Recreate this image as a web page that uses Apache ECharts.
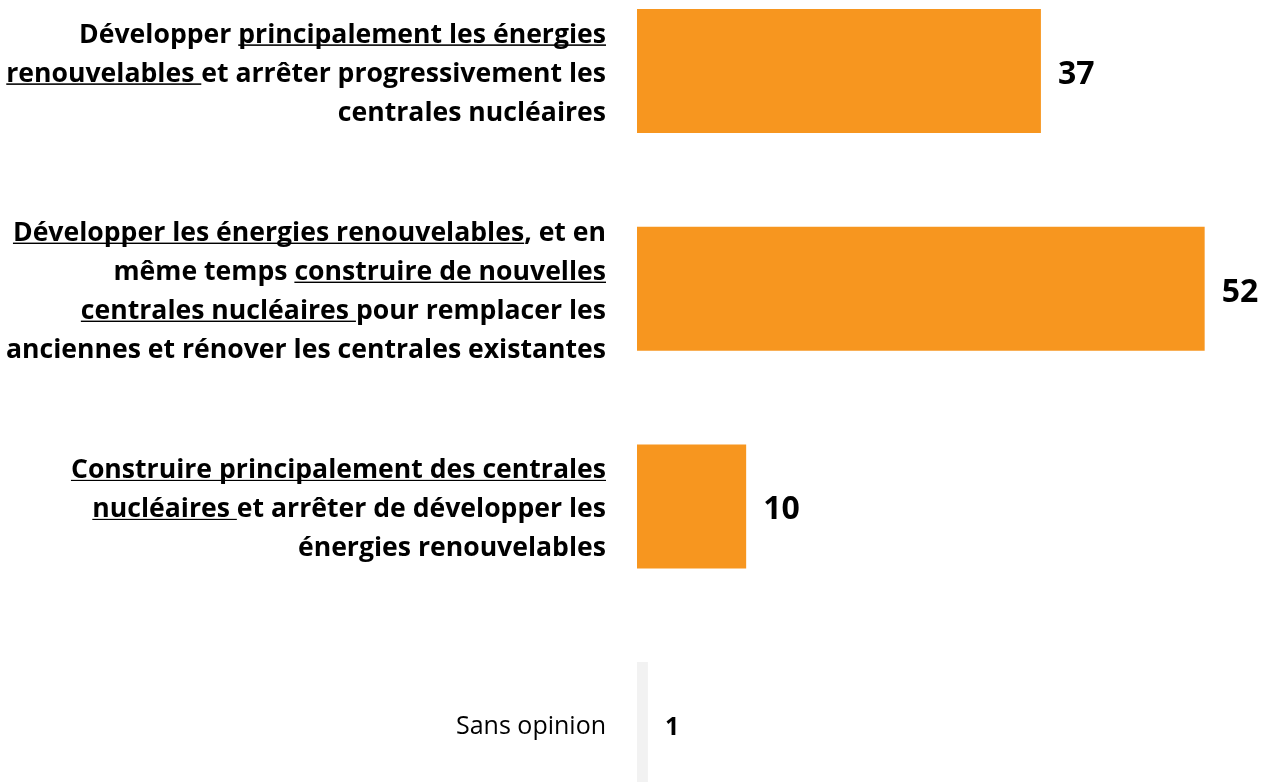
<!DOCTYPE html>
<html><head><meta charset="utf-8">
<script src="https://cdn.jsdelivr.net/npm/echarts@6/dist/echarts.min.js"></script>
<style>html,body{margin:0;padding:0;background:#fff}#c{width:1263px;height:782px}</style>
</head><body><div id="c"></div>
<script>
// Each category label: lines of [text, underlined] segments
const labelLines = [
  [[['Développer ', 0], ['principalement les énergies', 1]],
   [['renouvelables ', 1], ['et arrêter progressivement les', 0]],
   [['centrales nucléaires', 0]]],
  [[['Développer les énergies renouvelables', 1], [', et en', 0]],
   [['même temps ', 0], ['construire de nouvelles', 1]],
   [['centrales nucléaires ', 1], ['pour remplacer les', 0]],
   [['anciennes et rénover les centrales existantes', 0]]],
  [[['Construire principalement des centrales', 1]],
   [['nucléaires ', 1], ['et arrêter de développer les', 0]],
   [['énergies renouvelables', 0]]],
  [[['Sans opinion', 0]]]
];
const categories = labelLines.map(lines => lines.map(l => l.map(s => s[0]).join('')).join(' ').replace(/\s+/g, ' ').trim());
const values = [37, 52, 10, 1];
const plainIndex = 3; // "Sans opinion"

const FONT = 'Open Sans';
const FS = 26.6;
const LH = 39;
function underlineImg(h, y, t) {
  const c = document.createElement('canvas');
  c.width = 4; c.height = h;
  const ctx = c.getContext('2d');
  ctx.fillStyle = '#000';
  ctx.fillRect(0, y, 4, t);
  return c;
}
const ul = underlineImg(LH, 33, 2);

function fmt(value) {
  const i = categories.indexOf(value);
  const lines = labelLines[i];
  return lines.map(l => l.map(s => {
    const st = i === plainIndex ? 'r' : (s[1] ? 'u' : 'b');
    return '{' + st + '|' + s[0] + '}';
  }).join('')).join('\n');
}

const chart = echarts.init(document.getElementById('c'), null, {renderer: 'canvas'});
chart.setOption({
  animation: false,
  grid: {left: 637, top: -37.8, width: 655, height: 870.7, containLabel: false, outerBoundsMode: 'none'},
  xAxis: {type: 'value', min: 0, max: 60, show: false},
  yAxis: {
    type: 'category', data: categories, inverse: true,
    axisLine: {show: false}, axisTick: {show: false}, splitLine: {show: false},
    axisLabel: {
      margin: 31, align: 'right', formatter: fmt, padding: [6, 0, 0, 0],
      rich: {
        b: {fontFamily: FONT, fontWeight: 'bold', fontSize: FS, lineHeight: LH, color: '#000'},
        u: {fontFamily: FONT, fontWeight: 'bold', fontSize: FS, lineHeight: LH, color: '#000', backgroundColor: {image: ul}},
        r: {fontFamily: FONT, fontWeight: 'normal', fontSize: 25, lineHeight: LH, color: '#000'}
      }
    }
  },
  series: [{
    type: 'bar', barWidth: 124,
    data: values.map((v, i) => ({
      value: v,
      itemStyle: {color: i === plainIndex ? '#F2F2F2' : '#F7961F'},
      label: {fontSize: i === plainIndex ? 25 : 32}
    })),
    label: {show: true, position: 'right', distance: 17, offset: [0, 4], fontFamily: FONT, fontWeight: 'bold', fontSize: 32, color: '#000'}
  }]
});
</script></body></html>
